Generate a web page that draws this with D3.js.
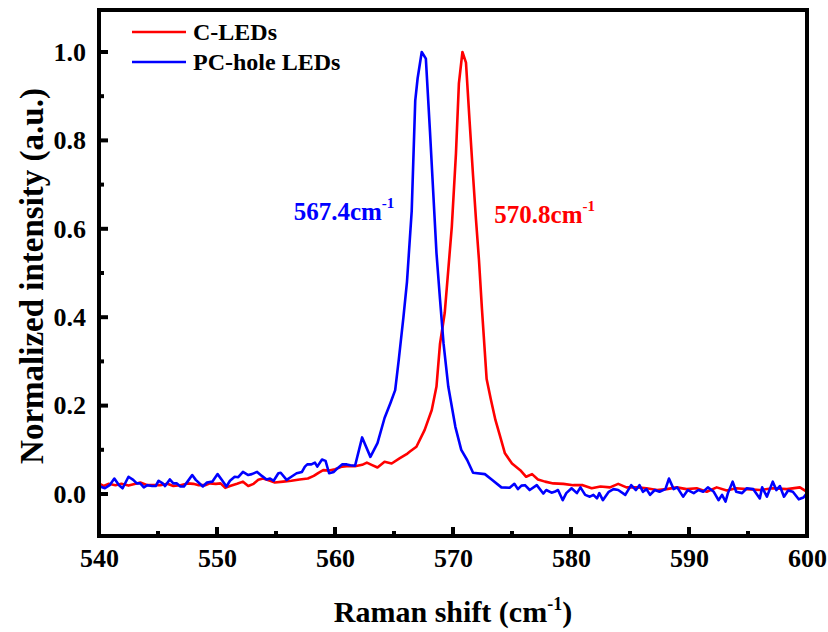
<!DOCTYPE html>
<html>
	<head>
		<meta charset="utf-8" />
		<title>Raman shift</title>
		<script src="https://d3js.org/d3.v7.min.js"></script>
		<style>
			body { margin: 0; background: #fff; }
		</style>
	</head>
	<body>
		<svg width="828" height="632"></svg>
		<script>
			// C-LEDs (red)
			const shiftC = [540.0, 540.4, 540.8, 541.4, 541.9, 542.5, 543.1, 543.5, 544.1, 544.6, 545.2, 545.8, 546.3, 546.9, 547.5, 548.0, 548.45, 549.0, 549.4, 549.9, 550.3, 550.7, 551.1, 551.7, 552.2, 552.65, 553.1, 553.5, 553.9, 554.5, 554.9, 555.6, 556.3, 557.0, 557.7, 558.2, 558.6, 559.0, 559.5, 560.0, 560.6, 561.0, 561.7, 562.3, 562.7, 563.1, 563.6, 564.2, 564.8, 565.5, 566.07, 566.35, 566.9, 567.6, 568.2, 568.6, 568.9, 569.3, 569.6, 569.9, 570.25, 570.5, 570.8, 571.1, 571.4, 571.7, 571.95, 572.2, 572.45, 572.85, 573.2, 573.6, 574.0, 574.4, 575.0, 575.7, 576.2, 576.7, 577.2, 577.8, 578.5, 579.35, 580.2, 581.0, 581.75, 582.5, 583.3, 584.0, 584.7, 585.6, 586.4, 587.3, 588.1, 588.95, 589.8, 590.65, 591.5, 592.35, 593.2, 594.0, 594.9, 596.0, 597.1, 598.3, 599.4, 600.0];
			const intensityC = [0.024, 0.018, 0.023, 0.020, 0.023, 0.019, 0.023, 0.026, 0.020, 0.020, 0.020, 0.023, 0.018, 0.020, 0.024, 0.023, 0.020, 0.020, 0.024, 0.023, 0.024, 0.014, 0.018, 0.023, 0.028, 0.018, 0.023, 0.032, 0.035, 0.030, 0.026, 0.028, 0.030, 0.033, 0.035, 0.041, 0.048, 0.054, 0.053, 0.056, 0.062, 0.063, 0.063, 0.066, 0.071, 0.066, 0.060, 0.073, 0.069, 0.081, 0.090, 0.096, 0.107, 0.145, 0.19, 0.243, 0.34, 0.41, 0.507, 0.605, 0.77, 0.929, 1.0, 0.976, 0.846, 0.72, 0.62, 0.53, 0.42, 0.26, 0.215, 0.167, 0.13, 0.092, 0.069, 0.054, 0.039, 0.045, 0.033, 0.028, 0.024, 0.023, 0.020, 0.020, 0.013, 0.017, 0.015, 0.023, 0.015, 0.015, 0.013, 0.009, 0.011, 0.015, 0.011, 0.013, 0.005, 0.015, 0.008, 0.013, 0.011, 0.009, 0.013, 0.011, 0.015, 0.005];

			// PC-hole LEDs (blue)
			const shiftPC = [540.0, 540.5, 540.9, 541.3, 541.7, 542.0, 542.5, 542.9, 543.2, 543.5, 543.8, 544.1, 544.5, 544.8, 545.05, 545.4, 545.6, 546.0, 546.3, 546.6, 546.9, 547.2, 547.5, 547.9, 548.2, 548.8, 549.15, 549.6, 550.05, 550.4, 550.8, 551.1, 551.5, 551.8, 552.2, 552.65, 552.95, 553.4, 553.8, 554.2, 554.5, 554.8, 555.2, 555.4, 555.9, 556.3, 556.75, 557.2, 557.45, 557.65, 558.0, 558.3, 558.5, 558.9, 559.2, 559.5, 559.9, 560.2, 560.6, 561.0, 561.3, 561.7, 562.3, 563.0, 563.6, 564.2, 564.7, 565.1, 565.4, 565.8, 566.1, 566.5, 566.8, 567.0, 567.35, 567.7, 568.05, 568.6, 568.9, 569.2, 569.6, 570.2, 570.7, 571.2, 571.7, 572.7, 573.3, 574.1, 574.8, 575.2, 575.5, 575.8, 576.1, 576.5, 577.1, 577.65, 577.9, 578.35, 578.6, 578.9, 579.3, 579.6, 580.05, 580.5, 580.8, 581.2, 581.6, 581.9, 582.2, 582.4, 582.7, 583.2, 583.6, 584.0, 584.6, 585.1, 585.5, 585.8, 586.1, 586.4, 586.7, 587.1, 587.5, 588.0, 588.3, 588.7, 589.0, 589.5, 589.9, 590.4, 590.8, 591.2, 591.6, 592.1, 592.5, 592.8, 593.1, 593.3, 593.7, 594.0, 594.5, 594.9, 595.45, 596.0, 596.2, 596.6, 597.1, 597.4, 597.7, 598.05, 598.4, 598.8, 599.3, 599.7, 600.0];
			const intensityPC = [0.018, 0.013, 0.020, 0.035, 0.020, 0.013, 0.039, 0.032, 0.024, 0.024, 0.015, 0.020, 0.018, 0.018, 0.030, 0.024, 0.018, 0.033, 0.024, 0.024, 0.017, 0.017, 0.028, 0.043, 0.032, 0.017, 0.026, 0.028, 0.045, 0.032, 0.017, 0.030, 0.039, 0.038, 0.050, 0.043, 0.045, 0.050, 0.041, 0.033, 0.035, 0.030, 0.047, 0.048, 0.032, 0.039, 0.047, 0.050, 0.062, 0.067, 0.067, 0.071, 0.062, 0.078, 0.075, 0.047, 0.050, 0.058, 0.067, 0.067, 0.065, 0.064, 0.128, 0.084, 0.115, 0.172, 0.206, 0.235, 0.303, 0.40, 0.48, 0.64, 0.89, 0.94, 1.0, 0.985, 0.82, 0.545, 0.44, 0.34, 0.243, 0.152, 0.10, 0.077, 0.048, 0.045, 0.032, 0.015, 0.014, 0.023, 0.011, 0.019, 0.020, 0.009, 0.020, 0.001, 0.009, 0.003, 0.005, 0.009, -0.014, 0.002, 0.013, 0.002, 0.015, -0.002, -0.006, -0.002, -0.010, 0.002, -0.014, 0.005, 0.011, 0.009, -0.002, 0.020, 0.009, 0.020, 0.005, 0.011, -0.002, 0.009, 0.005, 0.011, 0.035, 0.011, 0.015, -0.006, 0.009, 0.002, 0.009, 0.005, 0.015, 0.005, -0.014, -0.002, -0.017, 0.002, 0.028, 0.005, 0.002, 0.013, 0.011, -0.010, 0.015, -0.006, 0.028, 0.009, 0.018, -0.006, 0.008, 0.005, -0.012, -0.008, 0.002];

			const xMajor = [540, 550, 560, 570, 580, 590, 600];
			const xMinor = [545, 555, 565, 575, 585, 595];
			const yMajor = [0.0, 0.2, 0.4, 0.6, 0.8, 1.0];
			const yMinor = [0.1, 0.3, 0.5, 0.7, 0.9];

			const font = "'Liberation Serif', 'Times New Roman', serif";
			const svg = d3.select("svg")
				.attr("font-family", font)
				.attr("font-weight", "bold");
			const margin = { left: 99, top: 10, right: 807, bottom: 536 };

			const x = d3.scaleLinear().domain([540, 600]).range([margin.left, margin.right]);
			const y = d3.scaleLinear().domain([-0.095, 1.095]).range([margin.bottom, margin.top]);

			svg.append("clipPath").attr("id", "clip")
				.append("rect")
				.attr("x", margin.left).attr("y", margin.top)
				.attr("width", margin.right - margin.left)
				.attr("height", margin.bottom - margin.top);

			const line = d3.line()
				.x((d) => x(d[0]))
				.y((d) => y(d[1]));

			const series = [
				{ shift: shiftC, values: intensityC, color: "#ff0000" },
				{ shift: shiftPC, values: intensityPC, color: "#0000ff" }
			];

			series.forEach((s) => {
				svg.append("path")
					.attr("clip-path", "url(#clip)")
					.attr("d", line(d3.zip(s.shift, s.values)))
					.attr("fill", "none")
					.attr("stroke", s.color)
					.attr("stroke-width", 2.6)
					.attr("stroke-linejoin", "round");
			});

			// axis labels only; tick marks drawn below
			const xAxis = svg.append("g")
				.attr("transform", `translate(0,${margin.bottom})`)
				.call(d3.axisBottom(x).tickValues(xMajor).tickSize(0).tickPadding(13).tickFormat(d3.format("d")));
			svg.append("g")
				.attr("transform", `translate(${margin.left},0)`)
				.call(d3.axisLeft(y).tickValues(yMajor).tickSize(0).tickPadding(13).tickFormat(d3.format(".1f")));

			svg.selectAll("g").attr("font-family", font).attr("font-size", 26);
			svg.selectAll(".domain").remove();
			svg.selectAll(".tick text").attr("fill", "#000");
			xAxis.selectAll(".tick text").attr("dy", "0.71em");

			// frame
			svg.append("rect")
				.attr("x", margin.left).attr("y", margin.top)
				.attr("width", margin.right - margin.left)
				.attr("height", margin.bottom - margin.top)
				.attr("fill", "none")
				.style("stroke", "#000")
				.style("stroke-width", "4px");

			// inward ticks
			const ticks = svg.append("g");
			const xTicks = xMajor.map((v) => [v, 9]).concat(xMinor.map((v) => [v, 5]));
			ticks.selectAll("line.xt").data(xTicks).join("line")
				.attr("class", "xt")
				.attr("x1", (d) => x(d[0])).attr("x2", (d) => x(d[0]))
				.attr("y1", margin.bottom).attr("y2", (d) => margin.bottom - d[1]);
			const yTicks = yMajor.map((v) => [v, 9]).concat(yMinor.map((v) => [v, 5]));
			ticks.selectAll("line.yt").data(yTicks).join("line")
				.attr("class", "yt")
				.attr("x1", margin.left).attr("x2", (d) => margin.left + d[1])
				.attr("y1", (d) => y(d[0])).attr("y2", (d) => y(d[0]));
			ticks.selectAll("line").style("stroke", "#000").style("stroke-width", "4px");

			// axis titles
			const xTitle = svg.append("text")
				.attr("x", (margin.left + margin.right) / 2)
				.attr("y", 622)
				.attr("text-anchor", "middle")
				.attr("font-size", 30);
			xTitle.append("tspan").text("Raman shift (cm");
			xTitle.append("tspan").attr("dy", -12).attr("font-size", 18).text("-1");
			xTitle.append("tspan").attr("dy", 12).text(")");

			svg.append("text")
				.attr("transform", `translate(43,${(margin.top + margin.bottom) / 2 + 3}) rotate(-90)`)
				.attr("text-anchor", "middle")
				.attr("font-size", 33)
				.text("Normalized intensity (a.u.)");

			// legend
			const legend = [
				{ label: "C-LEDs", color: "#ff0000" },
				{ label: "PC-hole LEDs", color: "#0000ff" }
			];
			legend.forEach((d, i) => {
				const ly = 32 + i * 30;
				svg.append("line")
					.attr("x1", 132).attr("x2", 186)
					.attr("y1", ly).attr("y2", ly)
					.attr("stroke", d.color).attr("stroke-width", 2.6);
				svg.append("text")
					.attr("x", 193).attr("y", ly + 8)
					.attr("font-size", 24)
					.text(d.label);
			});

			// peak annotations
			const notes = [
				{ label: "567.4cm", at: [556.5, 0.62], color: "#0000ff" },
				{ label: "570.8cm", at: [573.5, 0.613], color: "#ff0000" }
			];
			notes.forEach((n) => {
				const t = svg.append("text")
					.attr("x", x(n.at[0])).attr("y", y(n.at[1]))
					.attr("fill", n.color)
					.attr("font-size", 25);
				t.append("tspan").text(n.label);
				t.append("tspan").attr("dy", -12).attr("font-size", 15).text("-1");
			});
		</script>
	</body>
</html>
